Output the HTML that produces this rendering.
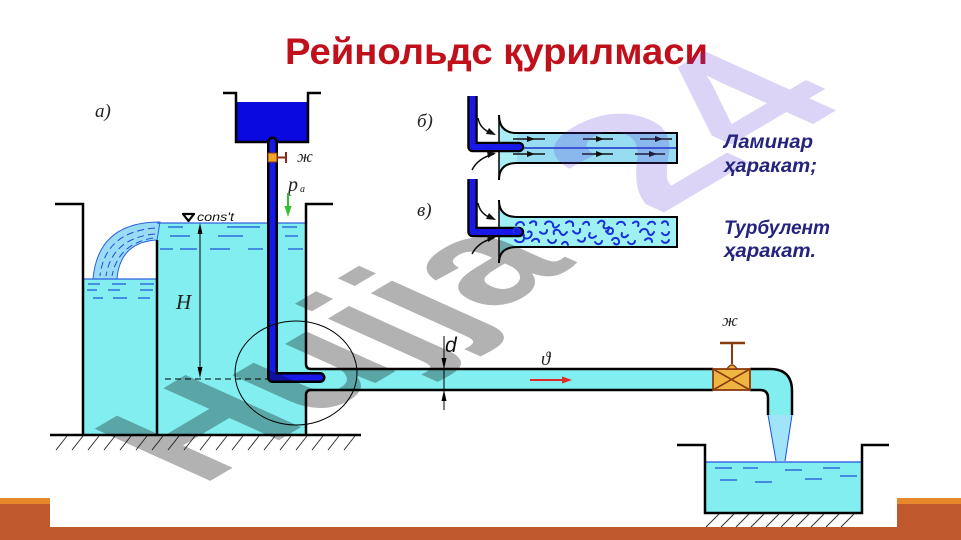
<!DOCTYPE html>
<html><head><meta charset="utf-8"><style>
html,body{margin:0;padding:0;background:#fff;width:961px;height:540px;overflow:hidden}
svg{display:block}
</style></head><body>
<svg width="961" height="540" viewBox="0 0 961 540" xmlns="http://www.w3.org/2000/svg">
<rect width="961" height="540" fill="#fff"/>
<!-- bottom bands -->
<rect x="0" y="498" width="50" height="6" fill="#e8882c"/>
<rect x="0" y="504" width="50" height="36" fill="#c0582e"/>
<rect x="897" y="498" width="64" height="6" fill="#e8882c"/>
<rect x="897" y="504" width="64" height="36" fill="#c0582e"/>
<rect x="0" y="527" width="961" height="13" fill="#c0582e"/>

<!-- title -->
<text x="285" y="64" font-family="Liberation Sans, sans-serif" font-weight="bold" font-size="37" fill="#c0101c" textLength="423" lengthAdjust="spacingAndGlyphs">Рейнольдс қурилмаси</text>

<!-- ===== panel a ===== -->
<text x="95" y="117" font-family="Liberation Serif, serif" font-style="italic" font-size="19" fill="#222">а)</text>

<!-- water fills -->
<rect x="157" y="223" width="149" height="212" fill="#82eef0"/>
<rect x="83" y="279" width="74" height="156" fill="#82eef0"/>
<rect x="306" y="369" width="407" height="21" fill="#82eef0"/>
<!-- overflow jet -->
<path d="M160,222 Q98,222 93,279 L117,279 Q120,242 157,240 Z" fill="#9adcf6" stroke="#2a62e0" stroke-width="1"/>
<g fill="none" stroke="#1c50d8" stroke-width="1" stroke-dasharray="7 4">
<path d="M155,228 Q105,232 100,276"/>
<path d="M155,234 Q112,238 106,276"/>
<path d="M153,238 Q118,244 112,276"/>
</g>
<!-- surface lines -->
<line x1="157" y1="223" x2="306" y2="223" stroke="#3060e0" stroke-width="1.2"/>
<line x1="83" y1="279" x2="157" y2="279" stroke="#3060e0" stroke-width="1.2"/>
<g stroke="#1c50d8" stroke-width="1.2">
<line x1="168" y1="227" x2="183" y2="227"/><line x1="227" y1="227" x2="260" y2="227"/><line x1="282" y1="227" x2="297" y2="227"/>
<line x1="170" y1="236" x2="190" y2="236"/><line x1="218" y1="236" x2="243" y2="236"/><line x1="285" y1="236" x2="298" y2="236"/>
<line x1="160" y1="249" x2="173" y2="249"/><line x1="180" y1="249" x2="197" y2="249"/><line x1="210" y1="249" x2="230" y2="249"/><line x1="248" y1="249" x2="263" y2="249"/><line x1="288" y1="249" x2="303" y2="249"/>
<line x1="88" y1="284" x2="100" y2="284"/><line x1="112" y1="284" x2="126" y2="284"/><line x1="140" y1="284" x2="154" y2="284"/>
<line x1="87" y1="290" x2="97" y2="290"/><line x1="108" y1="290" x2="120" y2="290"/><line x1="140" y1="290" x2="153" y2="290"/>
<line x1="93" y1="298" x2="103" y2="298"/><line x1="113" y1="298" x2="127" y2="298"/><line x1="138" y1="298" x2="150" y2="298"/>
</g>

<!-- tank walls -->
<g fill="none" stroke="#000" stroke-width="2.5">
<path d="M55,204 H83 V435"/>
<path d="M157,240 V435"/>
<path d="M333,204 H306 V364 Q306,369 311,369 H713"/>
<path d="M306,435 V395 Q306,390 311,390 H713"/>
<path d="M50,435 H361"/>
</g>
<g stroke="#333" stroke-width="1">
<path d="M56,450 l11,-14 M72,450 l11,-14 M88,450 l11,-14 M104,450 l11,-14 M120,450 l11,-14 M136,450 l11,-14 M152,450 l11,-14 M168,450 l11,-14 M184,450 l11,-14 M200,450 l11,-14 M216,450 l11,-14 M232,450 l11,-14 M248,450 l11,-14 M264,450 l11,-14 M280,450 l11,-14 M296,450 l11,-14 M312,450 l11,-14 M328,450 l11,-14 M344,450 l11,-14"/>
</g>

<!-- const marker -->
<path d="M183,214 H194 L188.5,221 Z" fill="#fff" stroke="#000" stroke-width="2.2" stroke-linejoin="round"/>
<text x="197" y="221" font-family="Liberation Sans, sans-serif" font-style="italic" font-size="12" fill="#111" textLength="37" lengthAdjust="spacingAndGlyphs">cons't</text>

<!-- H dimension -->
<line x1="200" y1="230" x2="200" y2="370" stroke="#000" stroke-width="1"/>
<polygon points="200,223 197.5,234 202.5,234" fill="#000"/>
<polygon points="200,378 197.5,367 202.5,367" fill="#000"/>
<text x="176" y="309" font-family="Liberation Serif, serif" font-style="italic" font-size="21" fill="#222">H</text>
<line x1="165" y1="379" x2="268" y2="379" stroke="#000" stroke-width="1" stroke-dasharray="6 4"/>

<!-- top tank -->
<rect x="236" y="102" width="72" height="40" fill="#0a0ae0"/>
<path d="M223,93 H236 V142 H308 V93 H321" fill="none" stroke="#000" stroke-width="2.5"/>

<!-- vertical pipe -->
<path d="M272.5,142 V377.5 H320" fill="none" stroke="#000" stroke-width="11" stroke-linejoin="round" stroke-linecap="round"/>
<path d="M272.5,142 V377.5 H320" fill="none" stroke="#1818e8" stroke-width="6" stroke-linejoin="round" stroke-linecap="round"/>
<rect x="268" y="153" width="9" height="9" fill="#f0a428" stroke="#8a3a10" stroke-width="1"/>
<line x1="277" y1="157.5" x2="286" y2="157.5" stroke="#8a2a1a" stroke-width="2"/>
<line x1="286" y1="152" x2="286" y2="163" stroke="#8a2a1a" stroke-width="2"/>
<text x="297" y="162" font-family="Liberation Serif, serif" font-style="italic" font-size="17" fill="#222">ж</text>
<text x="288" y="191" font-family="Liberation Serif, serif" font-style="italic" font-size="20" fill="#222">p</text>
<text x="300" y="192" font-family="Liberation Serif, serif" font-style="italic" font-size="10" fill="#222">a</text>
<line x1="288" y1="193" x2="288" y2="208" stroke="#30c030" stroke-width="2"/>
<polygon points="288,217 284.5,206 291.5,206" fill="#30c030"/>

<!-- circle -->
<ellipse cx="296" cy="373" rx="61" ry="52" fill="none" stroke="#000" stroke-width="1"/>

<!-- d dimension -->
<line x1="444" y1="336" x2="444" y2="410" stroke="#000" stroke-width="1"/>
<polygon points="444,369 441.5,358 446.5,358" fill="#000"/>
<polygon points="444,390 441.5,401 446.5,401" fill="#000"/>
<text x="445" y="352" font-family="Liberation Sans, sans-serif" font-style="italic" font-size="21" fill="#111">d</text>

<!-- velocity -->
<text x="541" y="365" font-family="Liberation Serif, serif" font-style="italic" font-size="19" fill="#222">ϑ</text>
<line x1="530" y1="380" x2="564" y2="380" stroke="#e02828" stroke-width="2"/>
<polygon points="572,380 562,376.5 562,383.5" fill="#e02828"/>

<!-- elbow -->
<path d="M750,369 H770 Q792,369 792,391 V415 H768 V398 Q768,390 760,390 H750 Z" fill="#82eef0"/>
<path d="M750,369 H770 Q792,369 792,391 V415" fill="none" stroke="#000" stroke-width="2.5"/>
<path d="M750,390 H760 Q768,390 768,398 V415" fill="none" stroke="#000" stroke-width="2.5"/>
<!-- stream -->
<path d="M768,415 L776,461 L785,461 L792,415 Z" fill="#a0e4fa"/>
<path d="M768,415 L776,461 M792,415 L785,461" stroke="#2050e0" stroke-width="1" fill="none"/>

<!-- valve -->
<rect x="713" y="369" width="37" height="21" fill="#f0b440" stroke="#8a3a10" stroke-width="1.8"/>
<path d="M713,369 L750,390 M750,369 L713,390" stroke="#8a3a10" stroke-width="1.6"/>
<path d="M727,369 Q732,361 737,369 Z" fill="#f0b440" stroke="#8a3a10" stroke-width="1.5"/>
<line x1="732" y1="343" x2="732" y2="364" stroke="#8a3a10" stroke-width="2"/>
<line x1="720" y1="343" x2="745" y2="343" stroke="#8a3a10" stroke-width="2.5"/>
<text x="722" y="326" font-family="Liberation Serif, serif" font-style="italic" font-size="17" fill="#222">ж</text>

<!-- lower tank -->
<rect x="705" y="462" width="157" height="51" fill="#82eef0"/>
<line x1="705" y1="462" x2="862" y2="462" stroke="#2050e0" stroke-width="1.2"/>
<g stroke="#1c50d8" stroke-width="1.2">
<line x1="715" y1="468" x2="732" y2="468"/><line x1="743" y1="468" x2="758" y2="468"/><line x1="785" y1="470" x2="802" y2="470"/><line x1="823" y1="468" x2="840" y2="468"/>
<line x1="720" y1="480" x2="737" y2="480"/><line x1="755" y1="482" x2="772" y2="482"/><line x1="805" y1="479" x2="822" y2="479"/><line x1="840" y1="476" x2="857" y2="476"/>
</g>
<path d="M677,445 H705 V513 H862 V445 H889" fill="none" stroke="#000" stroke-width="2.5"/>
<path d="M706,527 l13,-13 M721,527 l13,-13 M736,527 l13,-13 M751,527 l13,-13 M766,527 l13,-13 M781,527 l13,-13 M796,527 l13,-13 M811,527 l13,-13 M826,527 l13,-13 M841,527 l13,-13" stroke="#333" stroke-width="1"/>

<!-- ===== panel б ===== -->
<text x="417" y="127" font-family="Liberation Serif, serif" font-style="italic" font-size="19" fill="#222">б)</text>
<path d="M499,115 Q499,133 517,133 H677 V163 H517 Q499,163 499,180 Z" fill="#a8eef4"/>
<rect x="517" y="133" width="160" height="30" fill="#98dcf2"/>
<line x1="517" y1="148" x2="677" y2="148" stroke="#1830d0" stroke-width="1.5"/>
<path d="M499,115 Q499,133 517,133 H677 V163 H517 Q499,163 499,180" fill="none" stroke="#000" stroke-width="2"/>
<line x1="499" y1="115" x2="499" y2="180" stroke="#000" stroke-width="1.5"/>
<path d="M472.5,97 V147 H519" fill="none" stroke="#000" stroke-width="10.5" stroke-linejoin="round" stroke-linecap="round"/>
<path d="M472.5,95 V147 H519" fill="none" stroke="#1818e8" stroke-width="6" stroke-linejoin="round" stroke-linecap="round"/>
<rect x="466" y="90" width="13" height="6" fill="#fff"/>
<g stroke="#111" stroke-width="1.5">
<line x1="513" y1="139" x2="545" y2="139"/><line x1="583" y1="139" x2="613" y2="139"/><line x1="640" y1="139" x2="672" y2="139"/>
<line x1="513" y1="154" x2="545" y2="154"/><line x1="582" y1="154" x2="613" y2="154"/><line x1="635" y1="154" x2="665" y2="154"/>
</g>
<g fill="#111">
<polygon points="527,136 535,139 527,142"/><polygon points="596,136 604,139 596,142"/><polygon points="655,136 663,139 655,142"/>
<polygon points="527,151 535,154 527,157"/><polygon points="596,151 604,154 596,157"/><polygon points="649,151 657,154 649,157"/>
</g>
<!-- inlet arrows б -->
<path d="M478,118 Q480,130 494,134" fill="none" stroke="#111" stroke-width="1.5"/>
<polygon points="496,135 486,134 489,128" fill="#111"/>
<path d="M472,170 Q478,158 494,154" fill="none" stroke="#111" stroke-width="1.5"/>
<polygon points="496,153 487,151 488,158" fill="#111"/>

<!-- ===== panel в ===== -->
<text x="417" y="216" font-family="Liberation Serif, serif" font-style="italic" font-size="19" fill="#222">в)</text>
<path d="M499,200 Q499,217 517,217 H677 V247 H517 Q499,247 499,263 Z" fill="#9ef0f2"/>
<path d="M499,200 Q499,217 517,217 H677 V247 H517 Q499,247 499,263" fill="none" stroke="#000" stroke-width="2"/>
<line x1="499" y1="200" x2="499" y2="263" stroke="#000" stroke-width="1.5"/>
<path d="M472.5,180 V232 H519" fill="none" stroke="#000" stroke-width="10.5" stroke-linejoin="round" stroke-linecap="round"/>
<path d="M472.5,178 V232 H519" fill="none" stroke="#1818e8" stroke-width="6" stroke-linejoin="round" stroke-linecap="round"/>
<rect x="466" y="173" width="13" height="6" fill="#fff"/>
<g fill="none" stroke="#1830d8" stroke-width="2" stroke-linecap="round">
<path d="M516,225 c2,-4 7,-4 8,0"/><path d="M530,223 c3,-3 7,-2 6,2"/><path d="M545,224 c2,-4 8,-3 8,1 s4,3 6,0"/><path d="M566,223 c3,-3 8,-2 7,3"/><path d="M583,224 c2,-3 6,-3 6,1"/><path d="M598,223 c3,-4 8,-2 6,2 c-2,3 2,5 5,2"/><path d="M617,224 c2,-3 7,-3 8,1"/><path d="M633,223 c3,-3 7,-1 5,3"/><path d="M648,224 c2,-3 6,-3 7,0"/><path d="M662,223 c2,-3 6,-2 6,2"/>
<path d="M514,233 c-3,-4 3,-7 6,-3"/><path d="M524,235 c-2,4 5,5 7,1 c2,-3 -1,-6 -3,-4"/><path d="M540,232 c3,3 7,2 7,-2"/><path d="M554,234 c-2,-4 4,-6 6,-2 s4,4 7,0"/><path d="M573,231 c3,4 8,3 7,-2"/><path d="M590,233 c-3,4 2,7 6,3"/><path d="M606,231 c2,4 7,4 7,0 c0,-4 -5,-4 -5,0"/><path d="M622,233 c-2,4 3,6 6,2"/><path d="M640,232 c2,-4 7,-4 8,0 s4,4 6,0"/><path d="M662,233 c2,3 6,3 7,-1"/>
<path d="M515,240 c3,3 8,3 9,-1"/><path d="M532,241 c2,-3 7,-3 7,1"/><path d="M548,240 c2,4 7,4 8,0"/><path d="M562,244 c2,-3 5,-3 6,1"/><path d="M578,240 c3,3 7,2 7,-2"/><path d="M595,242 c2,3 6,3 7,-1"/><path d="M612,240 c2,-3 6,-3 7,1 c1,3 -3,5 -5,2"/><path d="M628,242 c2,3 6,3 7,-1"/><path d="M645,240 c3,-3 7,-2 7,2"/><path d="M662,241 c2,3 6,2 7,-1"/>
</g>
<path d="M478,203 Q480,215 494,219" fill="none" stroke="#111" stroke-width="1.5"/>
<polygon points="496,220 486,219 489,213" fill="#111"/>
<path d="M472,254 Q478,242 494,238" fill="none" stroke="#111" stroke-width="1.5"/>
<polygon points="496,237 487,235 488,242" fill="#111"/>

<!-- watermark -->
<text transform="matrix(1.544,-0.915,1.68,0.757,200,487)" font-family="Liberation Sans, sans-serif" font-weight="bold" font-size="100" fill="#000" fill-opacity="0.3">Hujja</text>
<text transform="matrix(1.754,-1.04,1.91,0.86,658,216)" font-family="Liberation Sans, sans-serif" font-weight="bold" font-size="100" fill="#5a3cd6" fill-opacity="0.22">24</text>

<!-- right labels -->
<g font-family="Liberation Sans, sans-serif" font-weight="bold" font-style="italic" font-size="19" fill="#24247e">
<text x="724" y="148" textLength="89" lengthAdjust="spacingAndGlyphs">Ламинар</text>
<text x="724" y="172" textLength="93" lengthAdjust="spacingAndGlyphs">ҳаракат;</text>
<text x="724" y="234" textLength="106" lengthAdjust="spacingAndGlyphs">Турбулент</text>
<text x="724" y="257" textLength="92" lengthAdjust="spacingAndGlyphs">ҳаракат.</text>
</g>
</svg>
</body></html>
